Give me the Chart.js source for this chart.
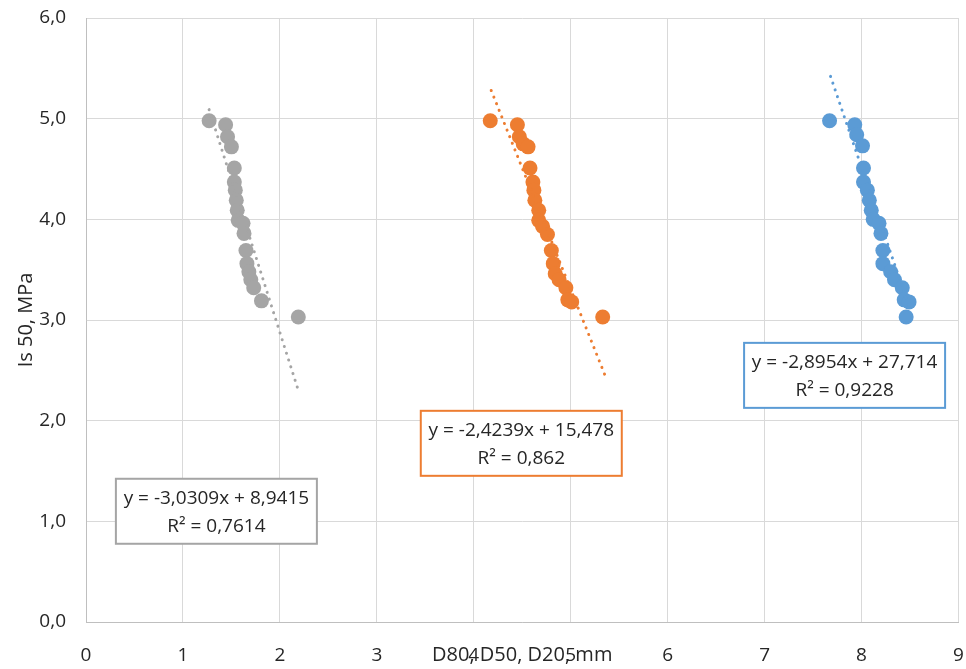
<!DOCTYPE html>
<html>
<head>
<meta charset="utf-8">
<script src="https://cdn.jsdelivr.net/npm/chart.js@4/dist/chart.umd.min.js"></script>
<style>
  html, body { margin: 0; padding: 0; background: #fff; }
  #wrap { width: 966px; height: 669px; }
</style>
</head>
<body>
<div id="wrap"><canvas id="Is50" width="966" height="669"></canvas></div>
<script>
// valori: Is50 (MPa) contro D80 / D50 / D20 (mm)
const d20X = [1.27, 1.44, 1.46, 1.50, 1.53, 1.53, 1.54, 1.55, 1.56, 1.57, 1.62, 1.63, 1.65, 1.66, 1.68, 1.70, 1.73, 1.81, 2.19];
const d20Y = [4.98, 4.94, 4.82, 4.72, 4.51, 4.37, 4.29, 4.19, 4.09, 3.99, 3.96, 3.86, 3.69, 3.56, 3.48, 3.40, 3.32, 3.19, 3.03];

const d50X = [4.17, 4.45, 4.47, 4.51, 4.56, 4.58, 4.61, 4.62, 4.63, 4.67, 4.67, 4.71, 4.76, 4.80, 4.82, 4.84, 4.88, 4.95, 4.97, 5.01, 5.33];
const d50Y = [4.98, 4.94, 4.82, 4.75, 4.72, 4.51, 4.37, 4.29, 4.19, 4.09, 3.99, 3.93, 3.85, 3.69, 3.56, 3.46, 3.40, 3.32, 3.20, 3.18, 3.03];

const d80X = [7.67, 7.93, 7.95, 8.01, 8.02, 8.02, 8.06, 8.08, 8.10, 8.12, 8.18, 8.20, 8.22, 8.22, 8.30, 8.34, 8.42, 8.44, 8.49, 8.46];
const d80Y = [4.98, 4.94, 4.84, 4.73, 4.51, 4.37, 4.29, 4.19, 4.09, 4.00, 3.96, 3.86, 3.69, 3.56, 3.48, 3.40, 3.32, 3.20, 3.18, 3.03];

// estremi delle linee di tendenza
const d20TrendX = [1.27, 2.19];
const d20TrendY = [5.09, 2.30];
const d50TrendX = [4.18, 5.35];
const d50TrendY = [5.28, 2.46];
const d80TrendX = [7.68, 8.49];
const d80TrendY = [5.42, 3.13];

// testi delle equazioni
const eqTexts = ["y = -3,0309x + 8,9415", "y = -2,4239x + 15,478", "y = -2,8954x + 27,714"];
const r2Texts = ["R² = 0,7614", "R² = 0,862", "R² = 0,9228"];

const GRAY = "#a5a5a5";
const ORANGE = "#ed7d31";
const BLUE = "#5b9bd5";
const FONT = "'Open Sans', sans-serif";

const pts = (xs, ys) => xs.map((x, i) => ({ x, y: ys[i] }));

function trend(xs, ys, color) {
  return {
    type: "line",
    data: pts(xs, ys),
    borderColor: color,
    borderWidth: 3,
    borderDash: [0.1, 7],
    borderCapStyle: "round",
    pointRadius: 0,
    fill: false,
    tension: 0,
  };
}

function scatter(xs, ys, color) {
  return {
    type: "scatter",
    data: pts(xs, ys),
    backgroundColor: color,
    borderWidth: 0,
    pointRadius: 7.5,
    pointHoverRadius: 7.5,
  };
}

// riquadri con equazione e R² (posizione in coordinate dati, centro del box)
const boxes = [
  { cx: 1.345, cy: 1.10, color: GRAY },
  { cx: 4.49, cy: 1.775, color: ORANGE },
  { cx: 7.825, cy: 2.45, color: BLUE },
];

const eqBoxes = {
  id: "eqBoxes",
  afterDatasetsDraw(chart) {
    const { ctx, scales } = chart;
    ctx.save();
    ctx.font = "19px " + FONT;
    ctx.textAlign = "center";
    ctx.textBaseline = "middle";
    boxes.forEach((b, i) => {
      const px = scales.x.getPixelForValue(b.cx);
      const py = scales.y.getPixelForValue(b.cy);
      const w = 201, h = 65;
      ctx.fillStyle = "#fff";
      ctx.fillRect(px - w / 2, py - h / 2, w, h);
      ctx.strokeStyle = b.color;
      ctx.lineWidth = 2;
      ctx.strokeRect(px - w / 2, py - h / 2, w, h);
      ctx.fillStyle = "#262626";
      ctx.fillText(eqTexts[i], px, py - 13);
      ctx.fillText(r2Texts[i], px, py + 15);
    });
    ctx.restore();
  },
};

const ctx = document.getElementById("Is50").getContext("2d");
new Chart(ctx, {
  data: {
    datasets: [
      trend(d20TrendX, d20TrendY, GRAY),
      trend(d50TrendX, d50TrendY, ORANGE),
      trend(d80TrendX, d80TrendY, BLUE),
      scatter(d20X, d20Y, GRAY),
      scatter(d50X, d50Y, ORANGE),
      scatter(d80X, d80Y, BLUE),
    ],
  },
  options: {
    responsive: false,
    animation: false,
    layout: { padding: { top: 18, right: 6, left: 0, bottom: 0 } },
    plugins: {
      legend: { display: false },
      tooltip: { enabled: false },
    },
    scales: {
      x: {
        type: "linear",
        min: 0,
        max: 9,
        ticks: { stepSize: 1, padding: 22, color: "#262626", font: { family: FONT, size: 19 } },
        grid: { color: "#d9d9d9", drawTicks: false },
        border: { color: "#bfbfbf" },
        title: {
          display: true,
          text: "D80, D50, D20, mm",
          color: "#262626",
          font: { family: FONT, size: 20 },
          padding: { top: 0, bottom: 2 },
        },
        afterFit: s => {
          s.height = 47;
          s.paddingLeft = 0;
          s.paddingRight = 0;
        },
      },
      y: {
        min: 0,
        max: 6,
        ticks: {
          stepSize: 1,
          padding: 20,
          color: "#262626",
          font: { family: FONT, size: 19 },
          callback: v => v.toFixed(1).replace(".", ","),
        },
        grid: { color: "#d9d9d9", drawTicks: false },
        border: { color: "#bfbfbf" },
        title: {
          display: true,
          text: "Is 50, MPa",
          color: "#262626",
          font: { family: FONT, size: 20 },
          padding: { top: 14, bottom: 0 },
        },
        afterFit: s => {
          s.width = 86;
          s.paddingTop = 0;
          s.paddingBottom = 0;
        },
      },
    },
  },
  plugins: [eqBoxes],
});
</script>
</body>
</html>
